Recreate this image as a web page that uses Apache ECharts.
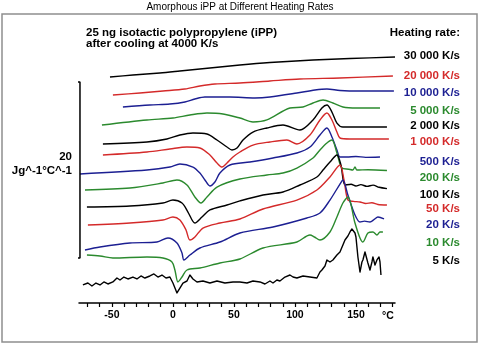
<!DOCTYPE html>
<html><head><meta charset="utf-8">
<script src="https://cdn.jsdelivr.net/npm/echarts@6/dist/echarts.min.js"></script>
<style>html,body{margin:0;padding:0;background:#fff}#c{width:480px;height:346px}</style>
</head><body><div id="c"></div>
<script>
// ---- data: [temperature °C, offset heat capacity J g^-1 °C^-1] ----
const rate30000 = [[-51.6,25.68],[-32.8,25.91],[-10.7,26.14],[5.7,26.36],[30.3,26.70],[54.9,27.05],[79.5,27.33],[114.8,27.61],[145.1,27.78],[182.0,27.95]];
const rate20000 = [[-49.2,23.64],[-27.0,23.86],[-8.2,24.09],[9.8,24.32],[22.1,24.66],[34.4,24.89],[54.9,25.00],[79.5,25.23],[104.1,25.45],[136.9,25.57],[180.3,25.80]];
const rate10000 = [[-41.0,22.27],[-18.9,22.50],[-2.5,22.61],[9.8,22.84],[18.0,23.18],[26.2,23.41],[46.7,23.41],[67.2,23.30],[79.5,23.41],[101.6,23.86],[116.4,24.20],[126.2,24.32],[136.9,24.15],[153.3,24.09],[181.1,24.09]];
const rate5000 = [[-58.2,20.23],[-21.3,20.80],[0,21.02],[13.9,21.36],[27.9,21.59],[41.0,21.48],[54.9,21.02],[65.6,20.57],[77.0,20.80],[95.9,22.16],[106.6,22.27],[114.8,22.73],[123.0,23.07],[131.1,22.73],[139.3,22.27],[150.8,22.16],[169.7,22.16]];
const rate2000 = [[-57.4,18.07],[-21.3,18.30],[-4.9,18.64],[5.7,19.09],[16.4,19.32],[27.9,19.20],[36.1,18.52],[44.3,17.73],[48.4,17.39],[52.5,17.61],[57.4,18.52],[65.6,19.43],[77.0,19.89],[90.2,20.23],[104.1,19.66],[114.8,20.80],[122.1,22.16],[126.2,22.50],[130.3,21.70],[134.4,20.45],[139.3,20.00],[155.7,20.00],[175.4,20.00]];
const rate1000 = [[-57.4,16.82],[-21.3,17.16],[-2.5,17.50],[11.5,17.73],[22.1,17.61],[30.3,16.82],[36.1,15.91],[40.2,15.45],[44.3,15.91],[49.2,16.59],[54.9,17.16],[65.6,17.95],[79.5,18.30],[93.4,18.52],[101.6,18.07],[112.3,19.09],[120.5,20.80],[126.2,21.59],[130.3,20.80],[134.4,19.43],[136.9,18.75],[145.1,18.64],[177.0,18.64]];
const rate500 = [[-76.2,14.66],[-21.3,15.11],[-2.5,15.45],[5.7,15.80],[16.4,15.45],[22.1,14.77],[26.2,13.98],[30.3,13.30],[34.4,13.75],[38.5,14.77],[46.7,15.68],[63.1,16.02],[82.0,16.48],[101.6,17.05],[112.3,17.73],[120.5,19.09],[126.2,19.89],[130.3,18.86],[134.4,17.39],[136.9,16.59],[142.6,16.59],[150,16.65],[158,16.55],[169.7,16.59]];
const rate200 = [[-72.1,12.84],[-35.2,13.07],[-8.2,13.64],[3.3,13.98],[11.5,13.41],[18.0,12.05],[23.0,11.36],[27.9,12.05],[36.1,13.18],[54.9,14.09],[77.0,14.55],[90.2,14.77],[101.6,15.34],[114.8,16.48],[120.5,17.39],[126.2,18.18],[130.3,18.52],[134.4,17.05],[138.5,15.34],[144,15.2],[147.5,15.11],[149.2,15.45],[150.8,15.11],[160,15.15],[175.4,15.05]];
const rate100 = [[-70.5,10.91],[-35.2,11.02],[-8.2,11.36],[0,11.70],[7.4,11.36],[12.3,10.34],[18.0,9.09],[23.8,9.77],[30.3,10.57],[44.3,11.14],[54.9,11.60],[73.8,12.27],[90.2,12.61],[104.1,13.41],[118.0,14.32],[123.0,15.11],[128.7,16.02],[134.4,16.82],[137.7,15.68],[141.0,13.41],[146,13.5],[150,13.3],[154,13.45],[159,13.25],[164,13.4],[169,13.15],[175.4,13.0]];
const rate50 = [[-69.7,8.86],[-35.2,9.09],[-8.2,9.43],[0,9.77],[5.7,9.43],[10.7,8.30],[13.9,7.16],[18.0,7.50],[24.6,8.52],[38.5,9.09],[54.9,9.55],[73.8,10.68],[101.6,11.70],[118.0,12.84],[128.7,14.32],[136.9,15.68],[140.2,13.98],[143.4,11.70],[148,11.55],[153.3,11.48],[158,11.3],[163,11.4],[168,11.2],[175.4,11.14]];
const rate20 = [[-72.1,6.02],[-59.8,6.36],[-35.2,6.82],[-13.1,6.93],[-4.1,7.39],[3.3,6.82],[7.4,5.68],[9.0,4.89],[13.9,5.45],[22.1,6.25],[38.5,6.93],[54.9,7.95],[82.0,8.64],[109.8,9.66],[120.5,10.23],[128.7,11.70],[136.9,13.52],[139.3,13.98],[143.4,12.27],[149.2,10.0],[153.3,9.20],[157,9.3],[161.5,9.20],[165,9.5],[168.0,9.77],[173.0,9.55]];
const rate10 = [[-70.5,5.45],[-59.8,5.34],[-49.2,5.11],[-21.3,5.23],[-8.2,5.11],[-0.8,4.66],[1.6,3.75],[4.1,2.39],[7.4,2.95],[11.5,3.75],[22.1,3.98],[38.5,4.55],[54.9,5.00],[73.8,6.25],[101.6,6.93],[112.3,7.73],[116,7.5],[120.5,7.16],[128.7,8.07],[134.4,9.77],[139.3,11.36],[143.4,12.05],[149.2,9.09],[153.3,7.39],[155.7,6.93],[159.8,7.95],[163.9,8.07],[167.2,7.73],[169.7,8.07],[172.1,8.07]];
const rate5 = [[-73.8,2.05],[-69.7,2.27],[-66.4,1.93],[-63.1,2.27],[-59.8,2.05],[-56.6,2.39],[-53.3,2.16],[-49.2,2.39],[-45.9,2.84],[-43.4,2.61],[-40.2,2.95],[-36.9,2.73],[-32.8,2.95],[-29.5,2.73],[-26.2,3.07],[-23.0,2.84],[-18.9,3.07],[-15.6,3.30],[-12.3,2.95],[-9.0,3.18],[-5.7,2.84],[-2.5,2.95],[0,2.27],[3.3,1.14],[5.7,1.70],[8.2,2.27],[11.5,2.50],[13.9,3.18],[16.4,2.73],[19.7,2.39],[24.6,2.50],[30.3,2.27],[36.1,2.50],[42.6,2.27],[49.2,2.39],[54.9,2.39],[60.7,2.27],[65.6,2.50],[71.3,2.39],[75.4,2.16],[79.5,2.50],[82.0,2.27],[85.2,2.61],[87.7,2.50],[91.8,2.95],[95.9,3.18],[98.4,2.95],[101.6,2.84],[106.6,3.07],[112.3,2.95],[118.0,2.84],[120.5,3.52],[122.1,3.75],[124.6,4.20],[126.2,4.89],[128.7,4.66],[131.1,4.89],[134.4,5.45],[136.9,5.80],[139.3,6.59],[141.0,7.16],[143.4,7.61],[145.1,8.07],[146.7,8.41],[147.5,8.52],[149.2,7.95],[150.0,7.50],[151.6,5.23],[153.3,3.52],[154.9,4.66],[155.7,4.89],[157.4,5.80],[158.2,5.80],[159.8,4.55],[161.5,3.75],[163.1,4.66],[163.9,5.23],[165.6,4.32],[167.2,4.89],[168.9,5.23],[169.7,4.66],[170.5,3.18]];

const rateLabels = ['30 000 K/s','20 000 K/s','10 000 K/s','5 000 K/s','2 000 K/s','1 000 K/s','500 K/s','200 K/s','100 K/s','50 K/s','20 K/s','10 K/s','5 K/s'];
const curves = [rate30000,rate20000,rate10000,rate5000,rate2000,rate1000,rate500,rate200,rate100,rate50,rate20,rate10,rate5];
const tickValues = [-70,-60,-50,-40,-30,-20,-10,0,10,20,30,40,50,60,70,80,90,100,110,120,130,140,150,160,170,180];
const tickLabels = [-50,0,50,100,150];
const scaleBar = [5.1, 25.1]; // 20 J g^-1 °C^-1

const palette = ['#000000','#d42a2a','#1c1f92','#2b8a2e'];
const labelY = [56,76,93,111,126,142,162,178,195,209,225,243,261];

const chart = echarts.init(document.getElementById('c'), null, {renderer:'canvas'});
const FONT = '"Liberation Sans", Arial, sans-serif';

const series = curves.map((d,i)=>({
  type:'line', name:rateLabels[i], data:d, showSymbol:false, symbol:'none',
  smooth: i===12 ? false : 0.3, clip:false, silent:true,
  lineStyle:{color:palette[i%4], width:1.4, join:'round'}, z: 3
}));
series.push({
  type:'line', data:[[-80.3,scaleBar[1]],[-76.2,scaleBar[1]],[-76.2,scaleBar[0]],[-80.3,scaleBar[0]]],
  showSymbol:false, symbol:'none', clip:false, silent:true,
  lineStyle:{color:'#000', width:1.5}
});

const graphics = [
  {type:'rect', shape:{x:2,y:14,width:475,height:328}, style:{fill:null, stroke:'#8e8e8e', lineWidth:1.5}, silent:true},
  {type:'text', x:240, y:7, style:{text:'Amorphous iPP at Different Heating Rates', font:'10px '+FONT, fill:'#000', textAlign:'center', textVerticalAlign:'middle'}},
  {type:'text', x:86, y:33, style:{text:'25 ng isotactic polypropylene (iPP)', font:'bold 11.5px '+FONT, fill:'#000', textVerticalAlign:'middle'}},
  {type:'text', x:86, y:44, style:{text:'after cooling at 4000 K/s', font:'bold 11.5px '+FONT, fill:'#000', textVerticalAlign:'middle'}},
  {type:'text', x:460, y:33, style:{text:'Heating rate:', font:'bold 11.5px '+FONT, fill:'#000', textAlign:'right', textVerticalAlign:'middle'}},
  {type:'text', x:72, y:157, style:{text:'20', font:'bold 11.5px '+FONT, fill:'#000', textAlign:'right', textVerticalAlign:'middle'}},
  {type:'text', x:72, y:171, style:{text:'Jg^-1°C^-1', font:'bold 11.5px '+FONT, fill:'#000', textAlign:'right', textVerticalAlign:'middle'}},
  {type:'text', x:388, y:316, style:{text:'°C', font:'bold 10.5px '+FONT, fill:'#000', textAlign:'center', textVerticalAlign:'middle'}}
];
rateLabels.forEach((t,i)=>graphics.push({type:'text', x:460, y:labelY[i], style:{text:t, font:'bold 11.5px '+FONT, fill:palette[i%4], textAlign:'right', textVerticalAlign:'middle'}}));

chart.setOption({
  animation:false,
  backgroundColor:'#fff',
  grid:{left:79, width:316, top:39, height:264, containLabel:false},
  xAxis:{type:'value', min:-77, max:182,
    axisLine:{show:true, onZero:false, lineStyle:{color:'#000', width:1.5}},
    axisTick:{show:true, inside:false, length:4, customValues:tickValues, lineStyle:{color:'#000', width:1.2}},
    axisLabel:{customValues:tickLabels, margin:7, color:'#000', fontWeight:'bold', fontSize:10.5, fontFamily:FONT},
    splitLine:{show:false}},
  yAxis:{type:'value', min:0, max:30, show:false, splitLine:{show:false}},
  series: series,
  graphic: graphics
});
</script></body></html>
